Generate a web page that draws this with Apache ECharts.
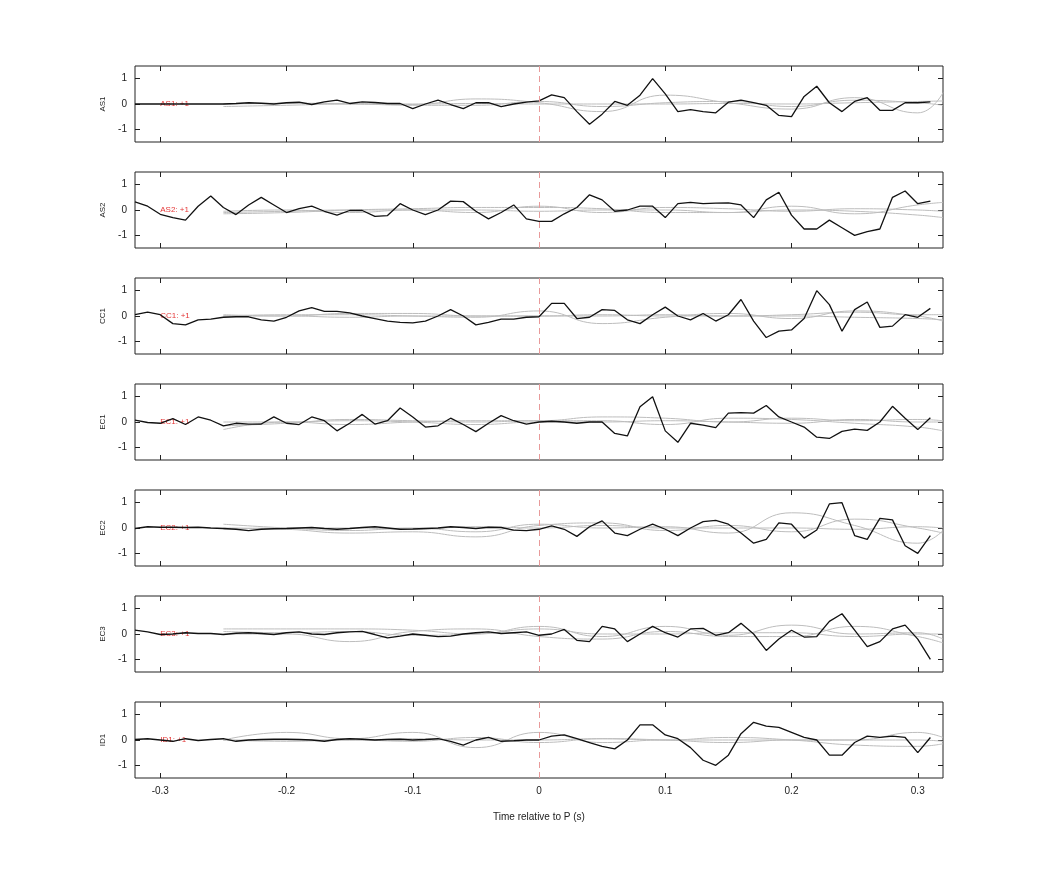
<!DOCTYPE html>
<html>
<head>
<meta charset="utf-8">
<script src="https://cdn.jsdelivr.net/npm/echarts@6/dist/echarts.min.js"></script>
<style>html,body{margin:0;padding:0;background:#fff}#chart{width:1042px;height:875px}</style>
</head>
<body>
<div id="chart"></div>
<script>
// stations, top to bottom
const stations = ['AS1', 'AS2', 'CC1', 'EC1', 'EC2', 'EC3', 'ID1']
const xTicks = [-0.3, -0.2, -0.1, 0, 0.1, 0.2, 0.3]
const yTicks = [-1, 0, 1]

// black trace samples, -0.32 s .. 0.31 s every 0.01 s
const tStart = -0.32
const tStep = 0.01
const as1 = [0,0,0,0,0,0,0,0,0.02,0.05,0.03,0,0.05,0.07,-0.02,0.08,0.15,0.02,0.08,0.06,0.02,0.02,-0.18,0,0.15,-0.02,-0.18,0.05,0.05,-0.1,0,0.07,
    0.12,0.36,0.25,-0.3,-0.8,-0.4,0.1,-0.05,0.35,1.0,0.4,-0.3,-0.22,-0.3,-0.35,0.07,0.15,0.05,-0.05,-0.45,-0.5,0.3,0.7,0.05,-0.3,0.1,0.25,-0.25,-0.25,0.05,0.05,0.08]
const as2 = [0.32,0.15,-0.17,-0.3,-0.4,0.15,0.55,0.1,-0.18,0.2,0.5,0.2,-0.1,0.05,0.15,-0.05,-0.2,-0.02,-0.02,-0.25,-0.22,0.25,0,-0.18,0,0.35,0.33,-0.05,-0.35,-0.1,0.2,-0.35,
    -0.45,-0.45,-0.15,0.1,0.6,0.4,-0.05,0,0.15,0.15,-0.3,0.25,0.3,0.25,0.27,0.28,0.2,-0.3,0.4,0.7,-0.2,-0.75,-0.75,-0.4,-0.7,-1.0,-0.85,-0.75,0.5,0.75,0.25,0.35]
const cc1 = [0.05,0.15,0.05,-0.3,-0.35,-0.15,-0.12,-0.05,-0.03,-0.03,-0.15,-0.2,-0.05,0.2,0.33,0.18,0.18,0.12,0,-0.1,-0.2,-0.25,-0.27,-0.2,0,0.25,0,-0.35,-0.25,-0.12,-0.12,-0.05,
    -0.03,0.5,0.5,-0.1,-0.05,0.25,0.22,-0.15,-0.3,0.05,0.35,0,-0.15,0.1,-0.2,0.05,0.65,-0.2,-0.85,-0.6,-0.55,-0.1,1.0,0.45,-0.6,0.25,0.55,-0.45,-0.4,0.05,-0.05,0.3]
const ec1 = [0.07,-0.02,-0.05,0.13,-0.1,0.2,0.07,-0.15,-0.05,-0.08,-0.08,0.2,-0.05,-0.1,0.2,0.05,-0.35,-0.05,0.3,-0.08,0.05,0.55,0.2,-0.2,-0.15,0.15,-0.1,-0.38,-0.05,0.25,0.05,-0.08,
    0,0.03,0,-0.05,0,0,-0.45,-0.55,0.6,1.0,-0.35,-0.8,-0.05,-0.12,-0.22,0.35,0.37,0.35,0.65,0.2,0,-0.2,-0.6,-0.65,-0.37,-0.28,-0.33,0,0.62,0.15,-0.3,0.17]
const ec2 = [-0.02,0.05,0.03,0.03,0.02,0.03,0,-0.02,-0.05,-0.1,-0.05,-0.03,-0.02,0,0.02,-0.02,-0.05,-0.02,0.02,0.05,0,-0.05,-0.04,-0.02,0,0.05,0.02,-0.02,0.03,0.02,-0.08,-0.1,
    -0.05,0.08,-0.05,-0.33,0.05,0.28,-0.2,-0.3,-0.05,0.15,-0.05,-0.3,0,0.25,0.3,0.15,-0.2,-0.6,-0.45,0.2,0.15,-0.4,-0.08,0.95,1.0,-0.3,-0.45,0.38,0.32,-0.7,-1.0,-0.3]
const ec3 = [0.15,0.08,-0.02,0,0.05,0.02,0.02,-0.02,0.03,0.05,0.02,-0.02,0.05,0.08,0,-0.02,0.05,0.08,0.1,-0.02,-0.15,-0.08,0,-0.05,-0.1,-0.08,0,0.05,0.08,0.02,0.05,0.08,
    -0.05,0,0.18,-0.25,-0.3,0.3,0.2,-0.3,0,0.3,0.05,-0.12,0.2,0.22,-0.05,0.05,0.42,0,-0.65,-0.2,0.15,-0.12,-0.1,0.5,0.8,0.15,-0.5,-0.3,0.2,0.35,-0.2,-1.0]
const id1 = [0.02,0.05,0,-0.05,0.05,-0.02,0.02,0.05,-0.05,0,0.02,0.03,0.03,0.02,0,-0.05,0.02,0.05,0.03,0,0.02,0.03,0,0.02,0.05,-0.05,-0.2,0,0.1,-0.05,-0.03,0,
    0,0.15,0.2,0.05,-0.1,-0.25,-0.35,0,0.6,0.6,0.2,0.05,-0.3,-0.8,-1.0,-0.6,0.25,0.7,0.55,0.5,0.3,0.1,0,-0.6,-0.6,-0.1,0.15,0.1,0.15,0.1,-0.5,0.1]
const traces = [as1, as2, cc1, ec1, ec2, ec3, id1]

// gray (synthetic) traces, smooth
const grayT = [-0.25,-0.2,-0.15,-0.1,-0.05,0,0.05,0.1,0.15,0.2,0.25,0.3,0.32]
const grays = [
    [[0,0.02,0,-0.02,0.2,0.05,-0.3,0.35,0.05,-0.2,0.25,-0.35,0.45],
     [-0.1,-0.05,0,-0.05,-0.05,0.1,-0.1,0.05,0.1,-0.1,0.15,0.05,-0.05],
     [0,0.03,0.02,0,0.02,0,0,0,0.02,0,0.05,0.1,0.12]],
    [[-0.15,-0.1,0,0.05,0.1,0.1,0.05,-0.1,-0.1,0.15,-0.15,0.2,0.3],
     [-0.05,0,-0.1,0,-0.1,0.15,-0.1,0.1,0.05,-0.05,0.05,0,-0.05],
     [-0.1,-0.05,0,0,0,-0.05,0,0,-0.1,0,-0.05,-0.2,-0.3]],
    [[0,0.05,0.05,0,-0.05,0.2,-0.3,-0.05,0.1,-0.1,0.2,0,-0.2],
     [0.05,0,0.1,0.1,0,0,0.05,0,0,0.05,0.15,0.05,0.05],
     [0,0,-0.05,0,0,0,0,0.05,0,0,-0.05,-0.1,-0.15]],
    [[-0.3,0,-0.1,0,0.05,0.05,0.2,0.15,0,0.15,0.05,0.1,0.05],
     [-0.15,-0.05,0.1,0.05,0,0.05,0.05,-0.1,0.15,0.1,-0.05,-0.2,-0.35],
     [0,0,0.05,0,-0.1,0,0,0.05,0,-0.05,0.1,0,0]],
    [[0.15,0,-0.1,0,-0.15,0.15,0,0.05,-0.2,0.6,0.1,-0.6,-0.1],
     [0,-0.05,-0.2,-0.15,-0.35,0.1,0.2,-0.1,0.1,-0.15,0.35,0,-0.2],
     [-0.05,0,0,-0.05,0.05,0,0.1,0,0,0,-0.05,0.05,0]],
    [[0.2,0.2,0.2,0.15,0,0.3,-0.1,0.3,-0.05,0.35,0,0.05,-0.2],
     [0,0,-0.3,0.1,0.2,-0.1,-0.2,0.1,-0.1,-0.1,0.3,-0.1,-0.35],
     [0.1,0.05,0.1,-0.05,0,0.2,0,0,0.05,0.05,-0.1,0,0]],
    [[0,0.3,0.05,0.3,-0.3,0.3,-0.1,0,0,0,0,0.3,0.1],
     [0,0,0,0.05,0,0,0.05,0,-0.1,0,0,0,-0.05],
     [0,-0.05,0,-0.05,0.1,-0.1,0.05,0,0.1,0,-0.2,-0.25,-0.15]]
]

const chart = echarts.init(document.getElementById('chart'))
const grid = [], xAxis = [], yAxis = [], series = []
const fontFamily = 'Helvetica, Arial, sans-serif'

stations.forEach((name, i) => {
    const last = i === stations.length - 1
    grid.push({ left: 135, right: 99, top: 66 + 106 * i, height: 76, show: true, borderColor: '#222', borderWidth: 1 })
    ;[0, 1].forEach(k => {
        xAxis.push({
            type: 'value', gridIndex: i, min: -0.32, max: 0.32, position: k ? 'top' : 'bottom',
            axisLine: { show: false, onZero: false },
            axisTick: { inside: true, length: 5, customValues: xTicks, lineStyle: { color: '#222' } },
            axisLabel: { show: last && !k, customValues: xTicks, color: '#222', fontSize: 10, fontFamily, margin: 8,
                formatter: v => String(Math.round(v * 10) / 10) },
            splitLine: { show: false },
            name: last && !k ? 'Time relative to P (s)' : '', nameLocation: 'middle', nameGap: 34,
            nameTextStyle: { color: '#222', fontSize: 10, fontFamily }
        })
        yAxis.push({
            type: 'value', gridIndex: i, min: -1.5, max: 1.5, position: k ? 'right' : 'left',
            axisLine: { show: false, onZero: false },
            axisTick: { inside: true, length: 5, customValues: yTicks, lineStyle: { color: '#222' } },
            axisLabel: { show: !k, customValues: yTicks, color: '#222', fontSize: 10, fontFamily, margin: 8 },
            splitLine: { show: false },
            name: k ? '' : name, nameLocation: 'middle', nameGap: 28, nameRotate: 90,
            nameTextStyle: { color: '#222', fontSize: 8, fontFamily }
        })
    })
    grays[i].forEach(g => {
        series.push({
            type: 'line', xAxisIndex: 2 * i, yAxisIndex: 2 * i, smooth: 0.5, symbol: 'none', silent: true,
            lineStyle: { color: '#bdbdbd', width: 1 },
            data: g.map((v, j) => [grayT[j], v])
        })
    })
    series.push({
        type: 'line', xAxisIndex: 2 * i, yAxisIndex: 2 * i, symbol: 'none',
        lineStyle: { color: '#111', width: 1.3 },
        data: traces[i].map((v, j) => [tStart + j * tStep, v]),
        markLine: {
            silent: true, symbol: 'none', label: { show: false },
            lineStyle: { color: '#e89a9a', type: [6, 4], width: 1 },
            data: [{ xAxis: 0 }]
        }
    })
    // red scale label
    series.push({
        type: 'scatter', xAxisIndex: 2 * i, yAxisIndex: 2 * i, symbolSize: 0, silent: true,
        data: [[-0.3, 0]],
        label: { show: true, position: 'right', distance: 0, formatter: name + ': +1', color: '#d00', fontSize: 8, fontFamily }
    })
})

chart.setOption({ animation: false, grid, xAxis, yAxis, series })
</script>
</body>
</html>
